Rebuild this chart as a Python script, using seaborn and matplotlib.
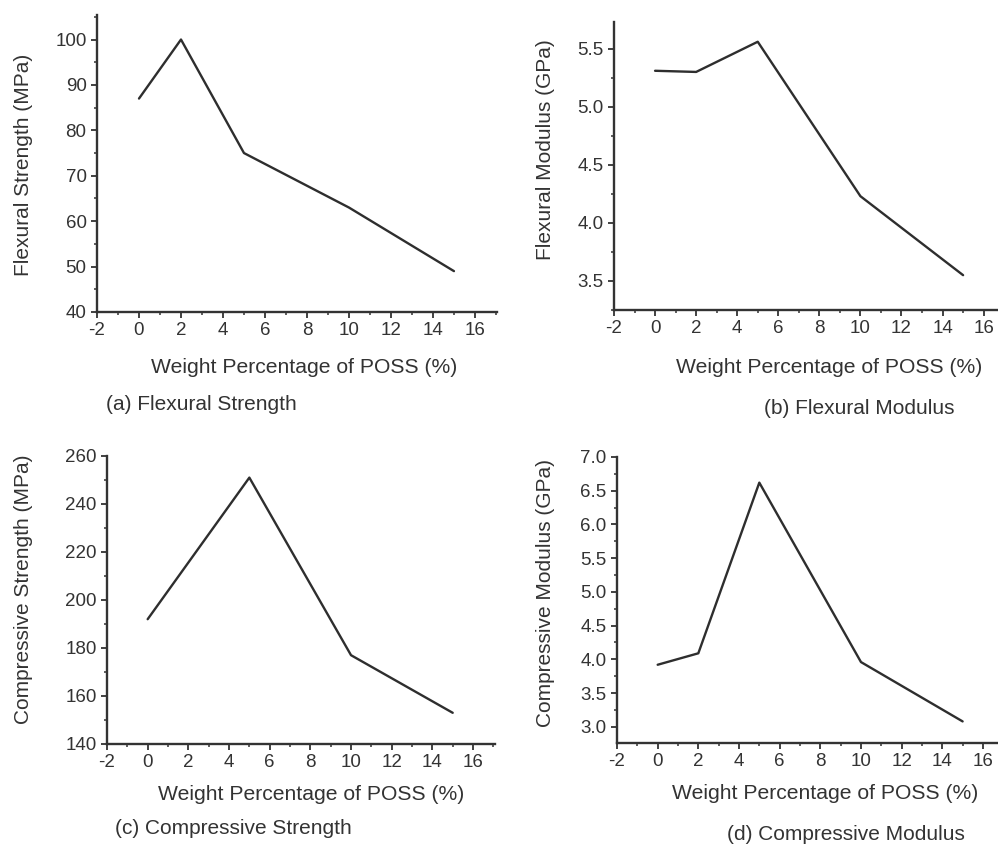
import matplotlib
matplotlib.use("Agg")
import matplotlib.pyplot as plt
from matplotlib.ticker import MultipleLocator, FormatStrFormatter
import seaborn as sns
import pandas as pd

# ---- data ----
poss_pct = [0, 2, 5, 10, 15]
flexural_strength = [87, 100, 75, 63, 49]
flexural_modulus = [5.31, 5.30, 5.56, 4.23, 3.55]
compressive_pct = [0, 5, 10, 15]
compressive_strength = [192, 251, 177, 153]
compressive_modulus = [3.92, 4.09, 6.62, 3.96, 3.08]

xlabel = "Weight Percentage of POSS (%)"
ylabels = ["Flexural Strength (MPa)", "Flexural Modulus (GPa)",
           "Compressive Strength (MPa)", "Compressive Modulus (GPa)"]
captions = ["(a) Flexural Strength", "(b) Flexural Modulus",
            "(c) Compressive Strength", "(d) Compressive Modulus"]

sns.set_style("ticks")
plt.rcParams['font.family'] = ['Liberation Sans', 'DejaVu Sans']

W, H = 998, 850
fig = plt.figure(figsize=(W / 100, H / 100), dpi=100)

def px_axes(left, right, top, bottom):
    return fig.add_axes([left / W, (H - bottom) / H, (right - left) / W, (bottom - top) / H])

ink = "#333333"
panels = [
    dict(box=(97, 497, 15, 312), x=poss_pct, y=flexural_strength, xlim=(-2, 17.05),
         ylim=(40, 105.4), ymaj=10, ymin=5, fmt=None,
         xl=(0.5175, -0.155), yl=(-0.16, 0.495)),
    dict(box=(614, 998, 22, 310), x=poss_pct, y=flexural_modulus, xlim=(-2, 16.7),
         ylim=(3.25, 5.73), ymaj=0.5, ymin=0.25, fmt="%.1f",
         xl=(0.56, -0.167), yl=(-0.154, 0.556)),
    dict(box=(107, 495, 456, 744), x=compressive_pct, y=compressive_strength,
         xlim=(-2, 17.08), ylim=(140, 260), ymaj=20, ymin=10, fmt=None,
         xl=(0.526, -0.142), yl=(-0.19, 0.538)),
    dict(box=(617, 998, 457, 743), x=poss_pct, y=compressive_modulus, xlim=(-2, 16.74),
         ylim=(2.76, 7.0), ymaj=0.5, ymin=0.25, fmt="%.1f",
         xl=(0.546, -0.143), yl=(-0.163, 0.523)),
]

for i, p in enumerate(panels):
    ax = px_axes(*p["box"])
    df = pd.DataFrame({"x": p["x"], "y": p["y"]})
    sns.lineplot(data=df, x="x", y="y", ax=ax, color="#2e2e2e", linewidth=1.7)
    ax.set_xlim(*p["xlim"])
    ax.set_ylim(*p["ylim"])
    ax.xaxis.set_major_locator(MultipleLocator(2))
    ax.xaxis.set_minor_locator(MultipleLocator(1))
    ax.yaxis.set_major_locator(MultipleLocator(p["ymaj"]))
    ax.yaxis.set_minor_locator(MultipleLocator(p["ymin"]))
    if p["fmt"]:
        ax.yaxis.set_major_formatter(FormatStrFormatter(p["fmt"]))
    ax.xaxis.set_major_formatter(plt.FuncFormatter(lambda v, pos: f"{int(round(v))}"))
    sns.despine(ax=ax)
    for s in ("left", "bottom"):
        ax.spines[s].set_linewidth(1.7)
        ax.spines[s].set_color(ink)
    ax.tick_params(which="major", direction="out", length=4.5, width=1.3, color=ink,
                   labelsize=13.5, labelcolor="#333333", pad=3)
    ax.tick_params(which="minor", direction="out", length=2.5, width=1.1, color=ink)
    ax.set_xlabel(xlabel, fontsize=15.2, color="#333333")
    ax.set_ylabel(ylabels[i], fontsize=15, color="#333333")
    ax.xaxis.set_label_coords(*p["xl"])
    ax.yaxis.set_label_coords(*p["yl"])
    ax.patch.set_alpha(0)

cap_pos = [(106, 405), (764, 408), (115, 829), (727, 834)]
for (cx, cy), txt in zip(cap_pos, captions):
    fig.text(cx / W, (H - cy) / H, txt, ha="left", va="center", fontsize=15, color="#333333")

fig.savefig("out.png", dpi=100)
